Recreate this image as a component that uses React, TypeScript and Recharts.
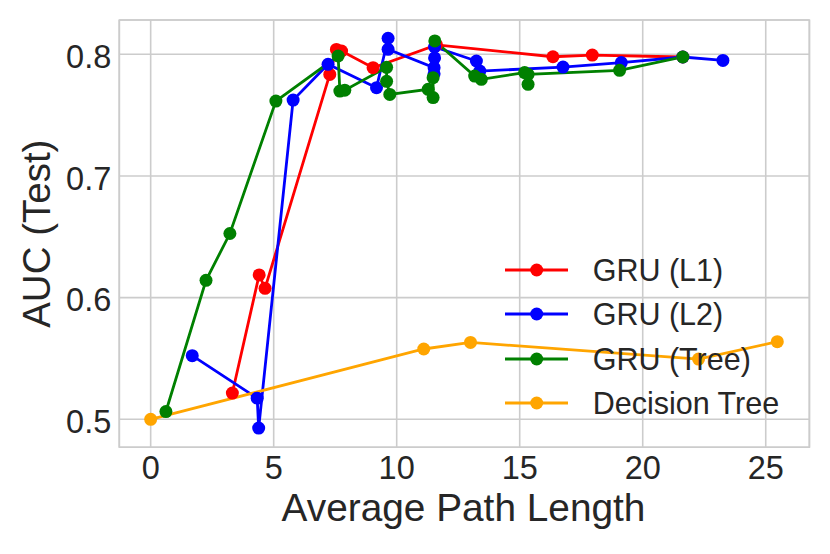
import React from 'react';
import { LineChart, Line, XAxis, YAxis, CartesianGrid, ReferenceArea, Legend } from 'recharts';

// [average path length, test AUC] in the order the runs were connected
const gruL1 = [
  [3.32, 0.5216], [4.41, 0.6187], [4.65, 0.6077], [7.28, 0.7835], [7.55, 0.804],
  [7.76, 0.8027], [9.04, 0.789], [11.62, 0.8077], [16.35, 0.798], [17.95, 0.7994],
  [21.63, 0.7978],
];

const gruL2 = [
  [1.69, 0.5523], [4.33, 0.5174], [4.39, 0.4928], [5.79, 0.7624], [7.21, 0.7918],
  [9.18, 0.7726], [9.65, 0.8132], [9.65, 0.8041], [11.52, 0.789], [11.52, 0.784],
  [11.54, 0.797], [11.54, 0.806], [13.24, 0.7945], [13.38, 0.7862], [16.76, 0.7895],
  [19.13, 0.7932], [21.63, 0.7978], [23.26, 0.795],
];

const gruTree = [
  [0.62, 0.5064], [2.25, 0.6142], [3.22, 0.6527], [5.09, 0.7616], [7.62, 0.7986],
  [7.69, 0.7698], [7.89, 0.7705], [9.59, 0.7893], [9.59, 0.7778], [9.72, 0.767],
  [11.28, 0.7712], [11.48, 0.7644], [11.48, 0.7808], [11.55, 0.811], [13.17, 0.7821],
  [13.44, 0.7794], [15.2, 0.785], [15.34, 0.7753], [15.34, 0.7835], [19.06, 0.7868],
  [21.63, 0.7978],
];

const decisionTree = [
  [0, 0.5], [11.1, 0.5578], [13.0, 0.5632], [22.27, 0.5495], [25.47, 0.5638],
];

const xTicks = [0, 5, 10, 15, 20, 25];
const yTicks = [0.5, 0.6, 0.7, 0.8];
const xDomain = [-1.275, 26.775];
const yDomain = [0.477, 0.8282];

const series = [
  { name: 'GRU (L1)', color: '#ff0000', points: gruL1 },
  { name: 'GRU (L2)', color: '#0000ff', points: gruL2 },
  { name: 'GRU (Tree)', color: '#008000', points: gruTree },
  { name: 'Decision Tree', color: '#ffa500', points: decisionTree },
];

const font = "'Liberation Sans', Arial, sans-serif";
const textColor = '#262626';
const gridColor = '#cccccc';

const toRows = (pts: number[][]) => pts.map(([x, y]) => ({ x, y }));

const YTitle = () => (
  <text
    transform="translate(50,233.7) rotate(-90)"
    textAnchor="middle"
    fontFamily={font}
    fontSize={38.5}
    fill={textColor}
  >
    AUC (Test)
  </text>
);

const XTitle = () => (
  <text x={463.5} y={520.5} textAnchor="middle" fontFamily={font} fontSize={38.8} fill={textColor}>
    Average Path Length
  </text>
);

const renderLegend = () => (
  <div style={{ fontFamily: font, color: textColor }}>
    {series.map((s) => (
      <div key={s.name} style={{ display: 'flex', alignItems: 'center', height: 44.4 }}>
        <svg width={70} height={20}>
          <line x1={5} x2={68} y1={10} y2={10} stroke={s.color} strokeWidth={3} />
          <circle cx={36.7} cy={10} r={6.5} fill={s.color} />
        </svg>
        <span style={{ marginLeft: 22.7, fontSize: 30.5, lineHeight: '44px' }}>{s.name}</span>
      </div>
    ))}
  </div>
);

export default function App() {
  return (
    <div style={{ position: 'absolute', left: 0, top: 0, width: 830, height: 554, background: '#fff' }}>
      <LineChart width={830} height={554} margin={{ top: 20, right: 20.6, left: 0, bottom: 0 }}>
        <CartesianGrid stroke={gridColor} strokeWidth={1.6} />
        <ReferenceArea
          x1={xDomain[0]}
          x2={xDomain[1]}
          y1={yDomain[0]}
          y2={yDomain[1]}
          fill="none"
          stroke={gridColor}
          strokeWidth={1.6}
          ifOverflow="visible"
        />
        <XAxis
          type="number"
          dataKey="x"
          domain={xDomain}
          ticks={xTicks}
          allowDataOverflow
          axisLine={false}
          tickLine={false}
          tickSize={0}
          tickMargin={9}
          height={106.7}
          tick={{ fill: textColor, fontSize: 32.5, fontFamily: font }}
          label={<XTitle />}
        />
        <YAxis
          type="number"
          domain={yDomain}
          ticks={yTicks}
          allowDataOverflow
          axisLine={false}
          tickLine={false}
          tickSize={0}
          tickMargin={8}
          width={119.3}
          tickFormatter={(v: number) => v.toFixed(1)}
          tick={{ fill: textColor, fontSize: 32.5, fontFamily: font, dy: 2 }}
          label={<YTitle />}
        />
        {series.map((s) => (
          <Line
            key={s.name}
            name={s.name}
            data={toRows(s.points)}
            dataKey="y"
            stroke={s.color}
            strokeWidth={2.8}
            dot={{ r: 6.5, fill: s.color, stroke: s.color, strokeWidth: 0 }}
            activeDot={false}
            isAnimationActive={false}
          />
        ))}
        <Legend
          layout="vertical"
          align="center"
          verticalAlign="middle"
          content={renderLegend}
          wrapperStyle={{ position: 'absolute', left: 500, top: 247.8, width: 310 }}
        />
      </LineChart>
    </div>
  );
}
